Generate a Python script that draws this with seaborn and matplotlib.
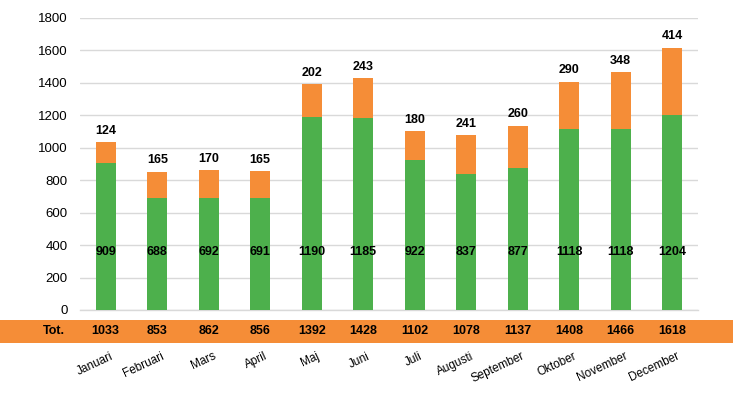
import matplotlib
matplotlib.use("Agg")
import matplotlib.pyplot as plt
import seaborn as sns
import pandas as pd
from matplotlib.patches import Rectangle
import matplotlib.transforms as mtransforms

# Data
months = ["Januari", "Februari", "Mars", "April", "Maj", "Juni", "Juli",
          "Augusti", "September", "Oktober", "November", "December"]
green_vals = [909, 688, 692, 691, 1190, 1185, 922, 837, 877, 1118, 1118, 1204]
orange_vals = [124, 165, 170, 165, 202, 243, 180, 241, 260, 290, 348, 414]
totals = [1033, 853, 862, 856, 1392, 1428, 1102, 1078, 1137, 1408, 1466, 1618]

GREEN = "#4DB04C"
ORANGE = "#F58D37"
GRID = "#D9D9D9"
LABEL_SIZE = 9

df = pd.DataFrame({"month": months, "green": green_vals,
                   "orange": orange_vals, "total": totals})

sns.set_style("white")
plt.rcParams["font.family"] = ["Liberation Sans", "DejaVu Sans"]
plt.rcParams["text.color"] = "black"
plt.rcParams["xtick.color"] = "black"
plt.rcParams["ytick.color"] = "black"

fig = plt.figure(figsize=(7.33, 3.96), dpi=100)
ax = fig.add_axes([80 / 733, 86 / 396, 618 / 733, 292 / 396])

# stacked bars: total (orange) behind, green in front
sns.barplot(data=df, x="month", y="total", color=ORANGE, saturation=1,
            width=0.39, linewidth=0, ax=ax, zorder=2)
sns.barplot(data=df, x="month", y="green", color=GREEN, saturation=1,
            width=0.39, linewidth=0, ax=ax, zorder=3)

ax.set_xlim(-0.5, len(months) - 0.5)
ax.set_ylim(0, 1800)
ax.set_yticks(range(0, 1801, 200))
ax.yaxis.grid(True, color=GRID, linewidth=1)
ax.set_axisbelow(True)
for side in ["top", "right", "left"]:
    ax.spines[side].set_visible(False)
ax.spines["bottom"].set_color(GRID)
ax.spines["bottom"].set_linewidth(1)
ax.tick_params(axis="both", length=0)
ax.tick_params(axis="y", pad=9, labelsize=9.5)
ax.set_xlabel("")
ax.set_ylabel("")

# month labels below the band
ax.set_xticks(range(len(months)))
ax.set_xticklabels(months, rotation=25, ha="right", rotation_mode="anchor",
                   fontsize=8.5)
ax.tick_params(axis="x", pad=29)
shift = mtransforms.ScaledTranslation(4 / 100, 0, fig.dpi_scale_trans)
for lbl in ax.get_xticklabels():
    lbl.set_transform(lbl.get_transform() + shift)

# data labels
for i, (g, o, t) in enumerate(zip(green_vals, orange_vals, totals)):
    ax.text(i, 357, str(g), ha="center", va="center", fontsize=LABEL_SIZE,
            fontweight="bold", zorder=5)
    ax.annotate(str(o), (i, t), xytext=(0, 4), textcoords="offset points",
                ha="center", va="bottom", fontsize=LABEL_SIZE,
                fontweight="bold")

# orange total band across the whole figure
band = Rectangle((0, 53 / 396), 1, 23 / 396, transform=fig.transFigure,
                 facecolor=ORANGE, edgecolor="none", zorder=-1)
fig.patches.append(band)
trans = mtransforms.blended_transform_factory(ax.transData, fig.transFigure)
band_y = 65 / 396
for i, t in enumerate(totals):
    ax.text(i, band_y, str(t), transform=trans, ha="center", va="center",
            fontsize=LABEL_SIZE, fontweight="bold", clip_on=False)
fig.text(65 / 733, band_y, "Tot.", ha="right", va="center",
         fontsize=LABEL_SIZE, fontweight="bold")

fig.savefig("out.png", dpi=100)
